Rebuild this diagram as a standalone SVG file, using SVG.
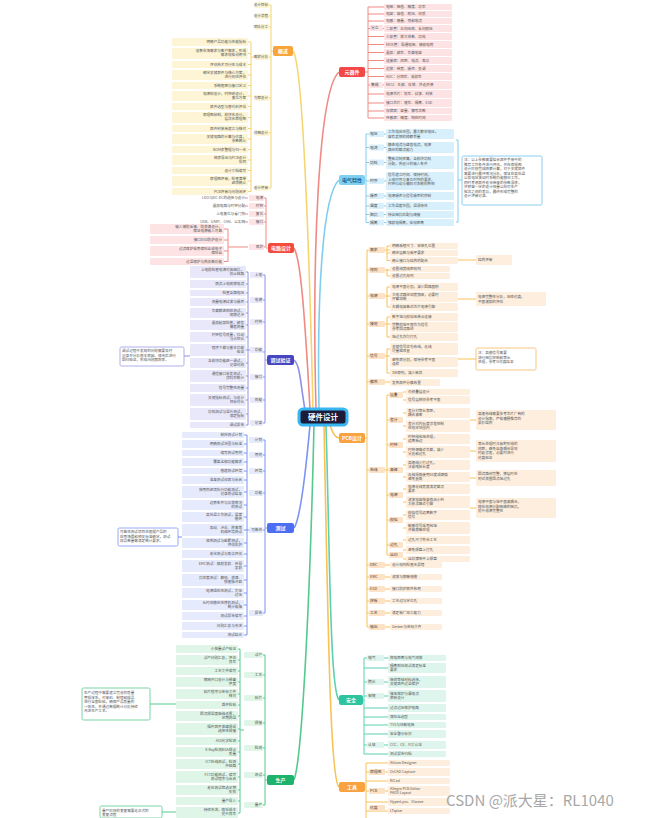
<svg xmlns="http://www.w3.org/2000/svg" width="652" height="818" viewBox="0 0 652 818">
<style>
text{font-family:"Noto Sans CJK SC","Noto Sans",sans-serif}
.t{font-size:3.6px;fill:#555}
.tl{font-size:3.6px;fill:#555;text-anchor:end}
.lb{font-size:3.8px;fill:#444}
.mn{font-size:5px;fill:#fff;text-anchor:middle;font-weight:bold}
.c{fill:none;stroke-width:1}
.cm{fill:none;stroke-width:1.6}
.red{stroke:#f08a84}.blu{stroke:#80cdef}.org{stroke:#f8c254}.tea{stroke:#5dd0b0}.yel{stroke:#f6d46e}.ind{stroke:#9090e4}.bl2{stroke:#7b93f2}.grn{stroke:#56c98e}
.fr{fill:#fde3e3}.fb{fill:#d8f0fb}.fo{fill:#fdeedd}.fol{fill:#fde2c6}.ft{fill:#ddf5ed}.fy{fill:#fdf5d6}.fi{fill:#e8e8fa}.fu{fill:#e5eafd}.fg{fill:#dff5e8}
</style>
<rect width="652" height="818" fill="#fff"/>
<g id="connectors">
<path class="cm red" d="M316 409 C312 260 318 90 339 72"/>
<path class="cm blu" d="M319 409 C317 300 322 195 339 180"/>
<path class="cm org" d="M330 425 Q334 438 339 438"/>
<path class="cm tea" d="M326 425 C330 560 330 690 339 700"/>
<path class="cm org" d="M324 425 C328 620 330 780 339 787"/>
<path class="cm yel" d="M313 409 C308 200 302 62 293 51"/>
<path class="cm red" d="M310 409 C304 300 300 258 294 248"/>
<path class="cm ind" d="M305 410 C300 380 300 365 294 360"/>
<path class="cm bl2" d="M310 425 C305 480 300 520 294 528"/>
<path class="cm grn" d="M314 425 C310 600 302 760 294 780"/>
<path class="c red" d="M365 72H368M368 7V118M368 7H384M368 14H384M368 21H384M368 28.5H384M368 36.5H384M368 44.5H384M368 52.5H384M368 60.5H384M368 68.5H384M368 76.5H384M368 85H384M368 94H384M368 103H384M368 111H384M368 118H384"/>
<path class="c blu" d="M365 180H366M366 134V222.5M366 134H386M366 147.5H386M366 162.5H386M366 181H386M366 196H386M366 206H386M366 214.5H386M366 222.5H386M456 140H458V222H456M458 180H462"/>
<path class="c org" d="M365 438H367M367 250V627M367 250H390M387 246V260.5M387 246H390M387 253H390M387 260.5H390M458 260H476M367 270H390M387 269V276M387 276H390M367 296H390M387 287V307M387 287H390M387 307H390M458 299H476M367 324H390M387 317V337M387 317H390M387 337H390M367 356H390M387 349V373M387 349H390M387 373H390M458 359H476M367 382H390M367 470H387M387 395V555M387 395H389M387 420H389M387 445H389M387 470H389M387 495H389M387 520H389M387 545H389M387 555H389M403 392H406M403 400H406M403 413H406M403 426H406M403 439H406M403 452H406M403 465H406M403 477H406M403 489H406M403 502H406M403 515H406M403 528H406M403 540H406M403 550H406M403 559H406M470 420H476M470 451H476M470 478H476M470 508H476M367 565H390M367 577H390M367 589H390M367 601H390M367 613H390M367 627H390"/>
<path class="c tea" d="M363 700H364M364 658V754M364 658H388M364 668H388M364 682H388M364 696H388M364 708H388M364 717H388M364 725H388M364 734H388M364 745H388M364 754H388"/>
<path class="c org" d="M365 787H366M366 763V818M366 763H388M366 772H388M366 781H388M366 791H388M366 802H388M366 811H388"/>
<path class="c yel" d="M273 51H271M271 5V188M271 5H269M271 16H269M271 27H269M271 57H269M271 98H269M271 133H269M271 188H269M255 57H251M251 42V191.5M251 42H248M251 53.5H248M251 64.5H248M251 75H248M251 85.5H248M251 96H248M251 106.5H248M251 117.5H248M251 128.5H248M251 139H248M251 149.5H248M251 160H248M251 170.5H248M251 181H248M251 191.5H248"/>
<path class="c red" d="M268 248H266M266 198V247M266 198H264M266 206H264M266 214H264M266 222H264M266 247H264M248 198H245M248 206H245M248 214H245M248 222H245M248 247H228M228 229V261.5M228 229H224M228 240H224M228 251H224M228 261.5H224"/>
<path class="c ind" d="M267 360H265M265 275V423M265 275H263M265 300H263M265 322H263M265 352H263M265 377H263M265 400H263M265 423H263M250 350H248M248 272V425M248 272H246M248 284H246M248 293H246M248 302H246M248 313H246M248 325H246M248 337H246M248 350H246M248 363H246M248 376H246M248 388H246M248 400H246M248 414H246M248 425H246M190 356H184"/>
<path class="c bl2" d="M267 528H265M265 440V613M265 440H263M265 455H263M265 471H263M265 493H263M265 530H263M265 613H263M249 530H247M247 435V635M247 435H244M247 444H244M247 453H244M247 462H244M247 471H244M247 480H244M247 492H244M247 505H244M247 517H244M247 530H244M247 543H244M247 554H244M247 566H244M247 580H244M247 593H244M247 605H244M247 616H244M247 626H244M247 635H244M182 537H178"/>
<path class="c grn" d="M267 780H265M265 655V805M265 655H263M265 675H263M265 698H263M265 723H263M265 748H263M265 775H263M265 805H263M244 730H240M240 649V813M240 649H238M240 660H238M240 671H238M240 682H238M240 694H238M240 705H238M240 716H238M240 729H238M240 741H238M240 752H238M240 764H238M240 777H238M240 790H238M240 801H238M240 813H238M176 704H150M176 812H162"/>
</g>
<g id="center"><rect x="299" y="409" width="48" height="16" rx="4" fill="#1c1c3a" stroke="#37b6f2" stroke-width="3"/><text x="323" y="420" font-size="7.5" fill="#fff" text-anchor="middle" font-weight="bold">硬件设计</text></g>
<g id="n-red-right"><rect x="339" y="67" width="26" height="10" rx="2" fill="#f24848"/><text class="mn" x="352" y="73.8">元器件</text>
<g class="fr"><rect x="384" y="4" width="68" height="6" rx="1"/><rect x="384" y="11" width="68" height="6" rx="1"/><rect x="384" y="18" width="68" height="6" rx="1"/><rect x="384" y="25" width="68" height="7" rx="1"/><rect x="384" y="33" width="68" height="7" rx="1"/><rect x="384" y="41" width="68" height="7" rx="1"/><rect x="384" y="49" width="68" height="7" rx="1"/><rect x="384" y="57" width="68" height="7" rx="1"/><rect x="384" y="65" width="68" height="7" rx="1"/><rect x="384" y="73" width="68" height="7" rx="1"/><rect x="384" y="81" width="68" height="8" rx="1"/><rect x="384" y="90" width="68" height="8" rx="1"/><rect x="384" y="99" width="68" height="8" rx="1"/><rect x="384" y="108" width="68" height="6" rx="1"/><rect x="384" y="115" width="68" height="6" rx="1"/><rect x="370" y="25" width="13" height="6" rx="1"/><rect x="370" y="82" width="13" height="6" rx="1"/></g>
<text class="t" x="386" y="8.3">电阻：阻值、精度、功率</text><text class="t" x="386" y="15.3">电容：容值、耐压、材质</text><text class="t" x="386" y="22.3">电感：感量、饱和电流</text><text class="t" x="386" y="29.8">二极管：正向压降、反向耐压</text><text class="t" x="386" y="37.8">三极管：放大倍数、功耗</text><text class="t" x="386" y="45.8">MOS管：导通电阻、栅极电荷</text><text class="t" x="386" y="53.8">晶振：频率、负载电容</text><text class="t" x="386" y="61.8">连接器：间距、电流、寿命</text><text class="t" x="386" y="69.8">运放：带宽、噪声、失调</text><text class="t" x="386" y="77.8">ADC：分辨率、采样率</text><text class="t" x="386" y="86.3">MCU：主频、存储、外设资源</text><text class="t" x="386" y="95.3">电源芯片：效率、纹波、封装</text><text class="t" x="386" y="104.3">接口芯片：速率、隔离、ESD</text><text class="t" x="386" y="112.3">存储器：容量、擦写次数</text><text class="t" x="386" y="119.3">传感器：精度、响应时间</text><text class="lb" x="371" y="29.3">分立</text><text class="lb" x="371" y="86.3">集成</text>
</g>
<g id="n-blue-right"><rect x="339" y="175" width="26" height="10" rx="2" fill="#7fd0f3"/><text class="mn" x="352" y="181.8" style="fill:#1d5f8a">电气特性</text>
<g class="fb"><rect x="369" y="131" width="15" height="6" rx="1"/><rect x="369" y="144.5" width="15" height="6" rx="1"/><rect x="369" y="159.5" width="15" height="6" rx="1"/><rect x="369" y="178" width="15" height="6" rx="1"/><rect x="369" y="193" width="15" height="6" rx="1"/><rect x="369" y="203" width="15" height="6" rx="1"/><rect x="369" y="211.5" width="15" height="6" rx="1"/><rect x="369" y="219.5" width="15" height="6" rx="1"/><rect x="386" y="129" width="68" height="10" rx="1"/><rect x="386" y="142" width="68" height="11" rx="1"/><rect x="386" y="156" width="68" height="13" rx="1"/><rect x="386" y="172" width="68" height="18" rx="1"/><rect x="386" y="192" width="68" height="8" rx="1"/><rect x="386" y="202" width="68" height="8" rx="1"/><rect x="386" y="211" width="68" height="7" rx="1"/><rect x="386" y="219" width="68" height="7" rx="1"/></g>
<text class="lb" x="370" y="135.3">电压</text><text class="lb" x="370" y="148.8">电流</text><text class="lb" x="370" y="163.8">功耗</text><text class="lb" x="370" y="182.3">时序</text><text class="lb" x="370" y="197.3">噪声</text><text class="lb" x="370" y="207.3">温度</text><text class="lb" x="370" y="215.8">阻抗</text><text class="lb" x="370" y="223.8">隔离</text>
<text class="t" x="388" y="133.3">工作电压范围，最大额定电压，</text><text class="t" x="388" y="137.6">留有足够的降额余量</text><text class="t" x="388" y="146.3">静态电流与峰值电流，电源</text><text class="t" x="388" y="150.6">路径的载流能力</text><text class="t" x="388" y="160.3">整板功耗预算，各模块功耗</text><text class="t" x="388" y="164.6">分配，热设计的输入条件</text><text class="t" x="388" y="176.3">信号建立时间、保持时间，</text><text class="t" x="388" y="180.6">上电时序与复位时序的要求，</text><text class="t" x="388" y="184.9">时钟抖动与偏斜对系统的影响</text><text class="t" x="388" y="197.3">电源噪声与信号噪声的抑制</text><text class="t" x="388" y="207.3">工作温度范围，温漂特性</text><text class="t" x="388" y="215.8">特征阻抗匹配与端接</text><text class="t" x="388" y="223.8">强弱电隔离，安规距离</text>
<rect x="462" y="156" width="80" height="49" rx="1.5" fill="#fff" stroke="#6cc3ec" stroke-width="0.8"/>
<text class="t" x="464" y="161">注：以上参数需要结合器件手册中的</text><text class="t" x="464" y="165.5">推荐工作条件进行评估，并在原理图</text><text class="t" x="464" y="170">设计阶段完成降额计算，对于关键器件</text><text class="t" x="464" y="174.5">需要进行最坏情况分析，保证在高低温</text><text class="t" x="464" y="179">以及电压波动时系统仍能稳定工作，</text><text class="t" x="464" y="183.5">同时考虑器件老化带来的参数漂移，</text><text class="t" x="464" y="188">并预留一定的设计裕量以应对生产</text><text class="t" x="464" y="192.5">批次之间的差异，最终形成完整的</text><text class="t" x="464" y="197">设计评审记录。</text>
</g>
<g id="n-orange-right"><rect x="339" y="433" width="26" height="10" rx="2" fill="#f8a242"/><text class="mn" x="352" y="439.8">PCB设计</text>
<g class="fol"><rect x="369" y="247" width="16" height="6" rx="1"/><rect x="369" y="267" width="16" height="6" rx="1"/><rect x="369" y="293" width="16" height="6" rx="1"/><rect x="369" y="321" width="16" height="6" rx="1"/><rect x="369" y="353" width="16" height="6" rx="1"/><rect x="369" y="379" width="16" height="6" rx="1"/><rect x="369" y="467" width="16" height="6" rx="1"/><rect x="389" y="392" width="14" height="6" rx="1"/><rect x="389" y="417" width="14" height="6" rx="1"/><rect x="389" y="442" width="14" height="6" rx="1"/><rect x="389" y="467" width="14" height="6" rx="1"/><rect x="389" y="492" width="14" height="6" rx="1"/><rect x="389" y="517" width="14" height="6" rx="1"/><rect x="389" y="542" width="14" height="6" rx="1"/><rect x="389" y="552" width="14" height="6" rx="1"/><rect x="369" y="562" width="16" height="6" rx="1"/><rect x="369" y="574" width="16" height="6" rx="1"/><rect x="369" y="586" width="16" height="6" rx="1"/><rect x="369" y="598" width="16" height="6" rx="1"/><rect x="369" y="610" width="16" height="6" rx="1"/><rect x="369" y="624" width="16" height="6" rx="1"/></g>
<g class="fo"><rect x="390" y="243" width="68" height="6" rx="1"/><rect x="390" y="250" width="68" height="6" rx="1"/><rect x="390" y="257" width="68" height="7" rx="1"/><rect x="476" y="255" width="36" height="10" rx="1"/><rect x="390" y="266" width="60" height="6" rx="1"/><rect x="390" y="273" width="60" height="6" rx="1"/><rect x="390" y="283" width="68" height="8" rx="1"/><rect x="390" y="292" width="68" height="10" rx="1"/><rect x="390" y="303" width="68" height="8" rx="1"/><rect x="476" y="292" width="70" height="14" rx="1"/><rect x="390" y="313" width="68" height="8" rx="1"/><rect x="390" y="322" width="68" height="10" rx="1"/><rect x="390" y="333" width="68" height="8" rx="1"/><rect x="390" y="343" width="68" height="12" rx="1"/><rect x="390" y="357" width="68" height="10" rx="1"/><rect x="390" y="369" width="68" height="8" rx="1"/><rect x="390" y="379" width="50" height="7" rx="1"/><rect x="406" y="389" width="64" height="6" rx="1"/><rect x="406" y="396" width="64" height="8" rx="1"/><rect x="406" y="408" width="64" height="10" rx="1"/><rect x="406" y="420" width="64" height="12" rx="1"/><rect x="406" y="434" width="64" height="10" rx="1"/><rect x="406" y="446" width="64" height="12" rx="1"/><rect x="406" y="460" width="64" height="10" rx="1"/><rect x="406" y="472" width="64" height="10" rx="1"/><rect x="406" y="484" width="64" height="10" rx="1"/><rect x="406" y="496" width="64" height="12" rx="1"/><rect x="406" y="510" width="64" height="10" rx="1"/><rect x="406" y="522" width="64" height="12" rx="1"/><rect x="406" y="536" width="64" height="8" rx="1"/><rect x="406" y="546" width="64" height="8" rx="1"/><rect x="406" y="556" width="64" height="6" rx="1"/><rect x="476" y="410" width="80" height="20" rx="1"/><rect x="476" y="440" width="80" height="22" rx="1"/><rect x="476" y="470" width="80" height="16" rx="1"/><rect x="476" y="498" width="80" height="20" rx="1"/><rect x="390" y="562" width="52" height="6" rx="1"/><rect x="390" y="574" width="52" height="6" rx="1"/><rect x="390" y="586" width="52" height="6" rx="1"/><rect x="390" y="598" width="52" height="6" rx="1"/><rect x="390" y="610" width="52" height="6" rx="1"/><rect x="390" y="624" width="52" height="6" rx="1"/></g>
<rect x="476" y="348" width="60" height="22" rx="1.5" fill="#fff" stroke="#f8b860" stroke-width="0.8"/>
<text class="lb" x="370" y="251.3">需求</text><text class="lb" x="370" y="271.3">规则</text><text class="lb" x="370" y="297.3">电源</text><text class="lb" x="370" y="325.3">接地</text><text class="lb" x="370" y="357.3">信号</text><text class="lb" x="370" y="383.3">散热</text><text class="lb" x="370" y="471.3">布线</text><text class="lb" x="390" y="396.3">层叠</text><text class="lb" x="390" y="421.3">差分</text><text class="lb" x="390" y="446.3">时钟</text><text class="lb" x="390" y="471.3">高速</text><text class="lb" x="390" y="496.3">电源</text><text class="lb" x="390" y="521.3">模拟</text><text class="lb" x="390" y="546.3">过孔</text><text class="lb" x="390" y="556.3">丝印</text><text class="lb" x="370" y="566.3">DRC</text><text class="lb" x="370" y="578.3">EMC</text><text class="lb" x="370" y="590.3">ESD</text><text class="lb" x="370" y="602.3">拼板</text><text class="lb" x="370" y="614.3">工艺</text><text class="lb" x="370" y="628.3">输出</text>
<text class="t" x="392" y="247.3">明确板框尺寸、安装孔位置</text><text class="t" x="392" y="254.3">确定层数与板厚要求</text><text class="t" x="392" y="261.6">确认接口与结构的配合</text><text class="t" x="478" y="261.3">结构评审</text><text class="t" x="392" y="270.3">设置线宽线距规则</text><text class="t" x="392" y="277.3">设置过孔规则</text><text class="t" x="392" y="288.3">电源平面分割，减少回路面积</text><text class="t" x="392" y="296">大电流路径加宽铜皮，必要时</text><text class="t" x="392" y="300.3">开窗加锡</text><text class="t" x="392" y="308.3">去耦电容靠近芯片电源引脚</text><text class="t" x="478" y="298">电源完整性分析，压降仿真，</text><text class="t" x="478" y="302.5">平面谐振的评估</text><text class="t" x="392" y="318.3">数字地与模拟地单点连接</text><text class="t" x="392" y="326">完整的地平面作为信号</text><text class="t" x="392" y="330.3">参考回流路径</text><text class="t" x="392" y="338.3">地过孔均匀打孔</text><text class="t" x="392" y="348">关键信号优先布线，走线</text><text class="t" x="392" y="352.3">尽量短且直</text><text class="t" x="392" y="361">避免跨分割，保持参考平面</text><text class="t" x="392" y="365.3">连续</text><text class="t" x="392" y="374.3">3W原则，减少串扰</text><text class="t" x="478" y="354">注：高速信号需要</text><text class="t" x="478" y="358.5">进行阻抗控制和等长</text><text class="t" x="478" y="363">处理，参考SI仿真结果</text><text class="t" x="392" y="384">发热器件分散布置</text>
<text class="t" x="408" y="393.3">对称叠层设计</text><text class="t" x="408" y="401.3">信号层相邻参考平面</text><text class="t" x="408" y="412">差分对等长等距，</text><text class="t" x="408" y="416.3">耦合紧密</text><text class="t" x="408" y="424.5">差分对内长度误差控制</text><text class="t" x="408" y="428.8">在规定范围内</text><text class="t" x="408" y="438">时钟线包地处理，</text><text class="t" x="408" y="442.3">远离板边</text><text class="t" x="408" y="450.5">时钟源靠近负载，减少</text><text class="t" x="408" y="454.8">分支和过孔</text><text class="t" x="408" y="464">高速线少打过孔，</text><text class="t" x="408" y="468.3">注意残桩长度</text><text class="t" x="408" y="476">走线拐角使用45度或圆弧</text><text class="t" x="408" y="480.3">避免直角</text><text class="t" x="408" y="488">电源走线宽度满足载流</text><text class="t" x="408" y="492.3">要求</text><text class="t" x="408" y="500.5">滤波电容按容值由小到</text><text class="t" x="408" y="504.8">大依次靠近引脚</text><text class="t" x="408" y="514">模拟信号远离数字</text><text class="t" x="408" y="518.3">信号</text><text class="t" x="408" y="526.5">敏感信号采用包地</text><text class="t" x="408" y="530.8">并做屏蔽处理</text><text class="t" x="408" y="541.3">过孔尺寸符合工艺</text><text class="t" x="408" y="551.3">避免焊盘上打孔</text><text class="t" x="408" y="560.3">丝印清晰不上焊盘</text>
<text class="t" x="478" y="415">高速布线需要参考芯片厂商的</text><text class="t" x="478" y="419.5">设计指南，严格遵循推荐的</text><text class="t" x="478" y="424">拓扑结构</text><text class="t" x="478" y="445">等长处理时注意蛇形线的</text><text class="t" x="478" y="449.5">间距，避免自身耦合导致</text><text class="t" x="478" y="454">时延误差，必要时进行</text><text class="t" x="478" y="458.5">仿真验证</text><text class="t" x="478" y="475">回流路径完整，换层时在</text><text class="t" x="478" y="479.5">附近放置回流地过孔</text><text class="t" x="478" y="503">电源平面与地平面紧耦合，</text><text class="t" x="478" y="507.5">降低电源分配网络的阻抗，</text><text class="t" x="478" y="512">提升电源完整性</text>
<text class="t" x="392" y="566.3">设计规则检查无报错</text><text class="t" x="392" y="578.3">滤波与屏蔽措施</text><text class="t" x="392" y="590.3">接口防护器件布局</text><text class="t" x="392" y="602.3">工艺边与定位孔</text><text class="t" x="392" y="614.3">满足板厂加工能力</text><text class="t" x="392" y="628.3">Gerber与坐标文件</text>
</g>
<g id="n-teal-right"><rect x="339" y="695" width="24" height="10" rx="2" fill="#2fc4a0"/><text class="mn" x="351" y="701.8">安全</text>
<g class="ft"><rect x="367" y="655" width="17" height="6" rx="1"/><rect x="367" y="679" width="17" height="6" rx="1"/><rect x="367" y="693" width="17" height="6" rx="1"/><rect x="367" y="742" width="17" height="6" rx="1"/><rect x="388" y="655" width="58" height="6" rx="1"/><rect x="388" y="663" width="58" height="10" rx="1"/><rect x="388" y="676" width="58" height="12" rx="1"/><rect x="388" y="690" width="58" height="12" rx="1"/><rect x="388" y="704" width="58" height="8" rx="1"/><rect x="388" y="714" width="58" height="6" rx="1"/><rect x="388" y="722" width="58" height="6" rx="1"/><rect x="388" y="730" width="58" height="8" rx="1"/><rect x="388" y="741" width="58" height="8" rx="1"/><rect x="388" y="751" width="58" height="6" rx="1"/></g>
<text class="lb" x="368" y="659.3">电气</text><text class="lb" x="368" y="683.3">防火</text><text class="lb" x="368" y="697.3">安规</text><text class="lb" x="368" y="746.3">认证</text>
<text class="t" x="390" y="659.3">爬电距离与电气间隙</text><text class="t" x="390" y="667">隔离耐压测试满足标准</text><text class="t" x="390" y="671.3">要求</text><text class="t" x="390" y="680.5">阻燃等级材料选择，</text><text class="t" x="390" y="684.8">关键器件过温保护</text><text class="t" x="390" y="694.5">接地保护与漏电流</text><text class="t" x="390" y="698.8">限制设计</text><text class="t" x="390" y="709.3">过流过压保护电路</text><text class="t" x="390" y="718.3">保险丝选型</text><text class="t" x="390" y="726.3">TVS与压敏电阻</text><text class="t" x="390" y="735.3">安全警示标识</text><text class="t" x="390" y="746.3">CCC、CE、FCC认证</text><text class="t" x="390" y="755.3">测试报告归档</text>
</g>
<g id="n-tools-right"><rect x="339" y="782" width="26" height="10" rx="2" fill="#f8a242"/><text class="mn" x="352" y="788.8">工具</text>
<g class="fo"><rect x="388" y="760" width="62" height="6" rx="1"/><rect x="388" y="768" width="62" height="8" rx="1"/><rect x="388" y="778" width="62" height="6" rx="1"/><rect x="388" y="786" width="62" height="10" rx="1"/><rect x="388" y="798" width="62" height="8" rx="1"/><rect x="388" y="808" width="62" height="6" rx="1"/></g>
<g class="fol"><rect x="369" y="769" width="16" height="6" rx="1"/><rect x="369" y="788" width="16" height="6" rx="1"/><rect x="369" y="805" width="16" height="6" rx="1"/></g>
<text class="lb" x="370" y="773.3">原理图</text><text class="lb" x="370" y="792.3">PCB</text><text class="lb" x="370" y="809.3">仿真</text>
<text class="t" x="390" y="764.3">Altium Designer</text><text class="t" x="390" y="773.3">OrCAD Capture</text><text class="t" x="390" y="782.3">KiCad</text><text class="t" x="390" y="790">Allegro PCB Editor</text><text class="t" x="390" y="794.3">PADS Layout</text><text class="t" x="390" y="803.3">HyperLynx、SIwave</text><text class="t" x="390" y="812.3">LTspice</text>
</g>
<g id="n-overview-left"><rect x="273" y="46" width="20" height="10" rx="2" fill="#f7a43a"/><text class="mn" x="283" y="52.8">概述</text>
<g class="fy"><rect x="255" y="2" width="14" height="6" rx="1"/><rect x="255" y="13" width="14" height="6" rx="1"/><rect x="255" y="24" width="14" height="6" rx="1"/><rect x="255" y="54" width="14" height="6" rx="1"/><rect x="255" y="95" width="14" height="6" rx="1"/><rect x="255" y="130" width="14" height="6" rx="1"/><rect x="255" y="185" width="14" height="6" rx="1"/>
<rect x="172" y="38" width="76" height="8" rx="1"/><rect x="172" y="48" width="76" height="11" rx="1"/><rect x="172" y="61" width="76" height="7" rx="1"/><rect x="172" y="70" width="76" height="10" rx="1"/><rect x="172" y="82" width="76" height="7" rx="1"/><rect x="172" y="91" width="76" height="10" rx="1"/><rect x="172" y="103" width="76" height="7" rx="1"/><rect x="172" y="112" width="76" height="11" rx="1"/><rect x="172" y="125" width="76" height="7" rx="1"/><rect x="172" y="134" width="76" height="10" rx="1"/><rect x="172" y="146" width="76" height="7" rx="1"/><rect x="172" y="155" width="76" height="10" rx="1"/><rect x="172" y="167" width="76" height="7" rx="1"/><rect x="172" y="176" width="76" height="10" rx="1"/><rect x="172" y="188" width="76" height="7" rx="1"/></g>
<text class="tl" x="268" y="6.3">设计目标</text><text class="tl" x="268" y="17.3">设计流程</text><text class="tl" x="268" y="28.3">团队分工</text><text class="tl" x="268" y="58.3">需求分析</text><text class="tl" x="268" y="99.3">方案设计</text><text class="tl" x="268" y="134.3">详细设计</text><text class="tl" x="268" y="189.3">设计评审</text>
<text class="tl" x="246" y="43.3">明确产品功能与性能指标</text><text class="tl" x="246" y="52">收集市场需求与客户需求，形成</text><text class="tl" x="246" y="56.3">需求规格说明书</text><text class="tl" x="246" y="65.8">评估技术可行性与成本</text><text class="tl" x="246" y="73.5">确定关键器件与核心方案，</text><text class="tl" x="246" y="77.8">进行风险评估</text><text class="tl" x="246" y="86.8">系统框图与接口定义</text><text class="tl" x="246" y="94.5">电源树设计，时钟树设计，</text><text class="tl" x="246" y="98.8">复位方案</text><text class="tl" x="246" y="107.8">器件选型与替代料评估</text><text class="tl" x="246" y="116">原理图绘制，模块化设计，</text><text class="tl" x="246" y="120.3">层次化原理图</text><text class="tl" x="246" y="129.8">器件封装库建立与核对</text><text class="tl" x="246" y="137.5">关键电路的计算与仿真，</text><text class="tl" x="246" y="141.8">参数确认</text><text class="tl" x="246" y="150.8">BOM表整理与归一化</text><text class="tl" x="246" y="158.5">网表导出与PCB设计</text><text class="tl" x="246" y="162.8">协同</text><text class="tl" x="246" y="171.8">设计文档编写</text><text class="tl" x="246" y="179.5">原理图评审，检查清单</text><text class="tl" x="246" y="183.8">逐项确认</text><text class="tl" x="246" y="192.8">PCB评审与问题闭环</text>
</g>
<g id="n-circuit-left"><rect x="268" y="243" width="26" height="10" rx="2" fill="#f24c3c"/><text class="mn" x="281" y="249.8">电路设计</text>
<g class="fr"><rect x="249" y="195" width="15" height="6" rx="1"/><rect x="249" y="203" width="15" height="6" rx="1"/><rect x="249" y="211" width="15" height="6" rx="1"/><rect x="249" y="219" width="15" height="6" rx="1"/><rect x="249" y="244" width="15" height="6" rx="1"/><rect x="150" y="224" width="74" height="10" rx="1"/><rect x="150" y="236" width="74" height="8" rx="1"/><rect x="150" y="246" width="74" height="10" rx="1"/><rect x="150" y="258" width="74" height="7" rx="1"/></g>
<text class="tl" x="263" y="199.3">电源</text><text class="tl" x="263" y="207.3">时钟</text><text class="tl" x="263" y="215.3">复位</text><text class="tl" x="263" y="223.3">接口</text><text class="tl" x="263" y="248.3">保护</text>
<text class="tl" x="245" y="199.3">LDO与DC-DC的选择与设计</text><text class="tl" x="245" y="207.3">晶振电路与时钟分配</text><text class="tl" x="245" y="215.3">上电复位与看门狗</text><text class="tl" x="245" y="223.3">USB、UART、CAN、以太网</text><text class="tl" x="222" y="227.8">输入端防反接、防浪涌设计，</text><text class="tl" x="222" y="232">保证电源输入可靠</text><text class="tl" x="222" y="241.3">接口ESD防护设计</text><text class="tl" x="222" y="249.8">过流保护采用保险丝或电子</text><text class="tl" x="222" y="254">保险丝</text><text class="tl" x="222" y="262.8">过温保护与热关断功能</text>
</g>
<g id="n-debug-left"><rect x="267" y="355" width="27" height="10" rx="2" fill="#4646c0"/><text class="mn" x="280.5" y="361.8">调试验证</text>
<g class="fi"><rect x="250" y="272" width="13" height="6" rx="1"/><rect x="250" y="297" width="13" height="6" rx="1"/><rect x="250" y="319" width="13" height="6" rx="1"/><rect x="250" y="347" width="13" height="6" rx="1"/><rect x="250" y="374" width="13" height="6" rx="1"/><rect x="250" y="397" width="13" height="6" rx="1"/><rect x="250" y="420" width="13" height="6" rx="1"/>
<rect x="190" y="266" width="56" height="12" rx="1"/><rect x="190" y="280" width="56" height="8" rx="1"/><rect x="190" y="290" width="56" height="6" rx="1"/><rect x="190" y="298" width="56" height="8" rx="1"/><rect x="190" y="308" width="56" height="10" rx="1"/><rect x="190" y="320" width="56" height="10" rx="1"/><rect x="190" y="332" width="56" height="10" rx="1"/><rect x="190" y="344" width="56" height="12" rx="1"/><rect x="190" y="358" width="56" height="10" rx="1"/><rect x="190" y="370" width="56" height="12" rx="1"/><rect x="190" y="384" width="56" height="8" rx="1"/><rect x="190" y="394" width="56" height="12" rx="1"/><rect x="190" y="408" width="56" height="12" rx="1"/><rect x="190" y="422" width="56" height="6" rx="1"/></g>
<rect x="120" y="347" width="64" height="19" rx="1.5" fill="#fff" stroke="#9a9ae6" stroke-width="0.8"/>
<text class="tl" x="262" y="276.3">上电</text><text class="tl" x="262" y="301.3">电源</text><text class="tl" x="262" y="323.3">时钟</text><text class="tl" x="262" y="351.3">功能</text><text class="tl" x="262" y="378.3">接口</text><text class="tl" x="262" y="401.3">性能</text><text class="tl" x="262" y="424.3">记录</text>
<text class="tl" x="244" y="270.5">上电前检查电源对地阻抗，</text><text class="tl" x="244" y="274.8">防止短路</text><text class="tl" x="244" y="285.3">限流上电观察电流</text><text class="tl" x="244" y="294.3">检查各路电压</text><text class="tl" x="244" y="303.3">测量电源纹波与噪声</text><text class="tl" x="244" y="312">负载瞬态响应测试，</text><text class="tl" x="244" y="316.3">观察过冲</text><text class="tl" x="244" y="324">晶振起振检查，频率</text><text class="tl" x="244" y="328.3">偏差测量</text><text class="tl" x="244" y="336">时钟信号质量，抖动</text><text class="tl" x="244" y="340.3">与占空比</text><text class="tl" x="244" y="348.5">程序下载与基本功能</text><text class="tl" x="244" y="352.8">验证</text><text class="tl" x="244" y="362">各模块功能逐一调试，</text><text class="tl" x="244" y="366.3">记录问题</text><text class="tl" x="244" y="374.5">通信接口收发测试，</text><text class="tl" x="244" y="378.8">误码率统计</text><text class="tl" x="244" y="389.3">信号完整性测量</text><text class="tl" x="244" y="398.5">关键指标测试，与设计</text><text class="tl" x="244" y="402.8">目标对比</text><text class="tl" x="244" y="412.5">功耗测试与温升测试，</text><text class="tl" x="244" y="416.8">满足指标</text><text class="tl" x="244" y="426.3">调试报告</text>
<text class="t" x="122" y="352">调试过程中发现的问题需要及时</text><text class="t" x="122" y="356.5">记录并分析根本原因，修改后进行</text><text class="t" x="122" y="361">回归验证，形成问题跟踪表。</text>
</g>
<g id="n-test-left"><rect x="267" y="523" width="27" height="10" rx="2" fill="#4b6ef3"/><text class="mn" x="280.5" y="529.8">测试</text>
<g class="fu"><rect x="249" y="437" width="14" height="6" rx="1"/><rect x="249" y="452" width="14" height="6" rx="1"/><rect x="249" y="468" width="14" height="6" rx="1"/><rect x="249" y="490" width="14" height="6" rx="1"/><rect x="249" y="527" width="14" height="6" rx="1"/><rect x="249" y="610" width="14" height="6" rx="1"/>
<rect x="182" y="432" width="62" height="6" rx="1"/><rect x="182" y="440" width="62" height="8" rx="1"/><rect x="182" y="450" width="62" height="6" rx="1"/><rect x="182" y="458" width="62" height="8" rx="1"/><rect x="182" y="468" width="62" height="6" rx="1"/><rect x="182" y="476" width="62" height="8" rx="1"/><rect x="182" y="486" width="62" height="12" rx="1"/><rect x="182" y="500" width="62" height="10" rx="1"/><rect x="182" y="512" width="62" height="10" rx="1"/><rect x="182" y="524" width="62" height="12" rx="1"/><rect x="182" y="538" width="62" height="10" rx="1"/><rect x="182" y="550" width="62" height="8" rx="1"/><rect x="182" y="560" width="62" height="12" rx="1"/><rect x="182" y="574" width="62" height="12" rx="1"/><rect x="182" y="588" width="62" height="10" rx="1"/><rect x="182" y="600" width="62" height="10" rx="1"/><rect x="182" y="612" width="62" height="8" rx="1"/><rect x="182" y="622" width="62" height="8" rx="1"/><rect x="182" y="632" width="62" height="6" rx="1"/></g>
<rect x="118" y="528" width="60" height="18" rx="1.5" fill="#fff" stroke="#7b93f2" stroke-width="0.8"/>
<text class="tl" x="262" y="441.3">计划</text><text class="tl" x="262" y="456.3">用例</text><text class="tl" x="262" y="472.3">环境</text><text class="tl" x="262" y="494.3">功能</text><text class="tl" x="262" y="531.3">可靠性</text><text class="tl" x="262" y="614.3">报告</text>
<text class="tl" x="242" y="436.3">制定测试计划</text><text class="tl" x="242" y="445.3">明确测试范围与标准</text><text class="tl" x="242" y="454.3">编写测试用例</text><text class="tl" x="242" y="463.3">覆盖全部功能需求</text><text class="tl" x="242" y="472.3">搭建测试环境</text><text class="tl" x="242" y="481.3">准备测试仪器与治具</text><text class="tl" x="242" y="491">按用例逐项执行功能测试，</text><text class="tl" x="242" y="495.3">记录测试结果</text><text class="tl" x="242" y="504">边界条件与异常情况</text><text class="tl" x="242" y="508.3">的测试</text><text class="tl" x="242" y="516">高低温工作测试，温度</text><text class="tl" x="242" y="520.3">循环</text><text class="tl" x="242" y="528.5">振动、冲击、跌落等</text><text class="tl" x="242" y="532.8">机械环境测试</text><text class="tl" x="242" y="542">湿热测试与盐雾测试，</text><text class="tl" x="242" y="546.3">评估防护</text><text class="tl" x="242" y="555.3">老化测试与寿命评估</text><text class="tl" x="242" y="564.5">EMC测试：辐射发射、传导</text><text class="tl" x="242" y="568.8">发射</text><text class="tl" x="242" y="578.5">抗扰度测试：静电、浪涌、</text><text class="tl" x="242" y="582.8">快速脉冲群</text><text class="tl" x="242" y="592">电源适应性测试，欠压</text><text class="tl" x="242" y="596.3">过压</text><text class="tl" x="242" y="604">长时间稳定性拷机测试，</text><text class="tl" x="242" y="608.3">统计故障</text><text class="tl" x="242" y="617.3">测试报告编写</text><text class="tl" x="242" y="627.3">问题汇总与改进</text><text class="tl" x="242" y="636.3">测试结论</text>
<text class="t" x="120" y="533">可靠性测试项目应根据产品的</text><text class="t" x="120" y="537.5">应用场景和相关标准确定，测试</text><text class="t" x="120" y="542">样品数量需满足统计要求。</text>
</g>
<g id="n-production-left"><rect x="267" y="775" width="27" height="10" rx="2" fill="#1db36c"/><text class="mn" x="280.5" y="781.8">生产</text>
<g class="fg"><rect x="244" y="652" width="19" height="6" rx="1"/><rect x="244" y="672" width="19" height="6" rx="1"/><rect x="244" y="695" width="19" height="6" rx="1"/><rect x="244" y="720" width="19" height="6" rx="1"/><rect x="244" y="745" width="19" height="6" rx="1"/><rect x="244" y="772" width="19" height="6" rx="1"/><rect x="244" y="802" width="19" height="6" rx="1"/>
<rect x="176" y="645" width="62" height="8" rx="1"/><rect x="176" y="655" width="62" height="10" rx="1"/><rect x="176" y="667" width="62" height="8" rx="1"/><rect x="176" y="677" width="62" height="10" rx="1"/><rect x="176" y="689" width="62" height="10" rx="1"/><rect x="176" y="701" width="62" height="8" rx="1"/><rect x="176" y="711" width="62" height="10" rx="1"/><rect x="176" y="723" width="62" height="12" rx="1"/><rect x="176" y="737" width="62" height="8" rx="1"/><rect x="176" y="747" width="62" height="10" rx="1"/><rect x="176" y="759" width="62" height="10" rx="1"/><rect x="176" y="771" width="62" height="12" rx="1"/><rect x="176" y="785" width="62" height="10" rx="1"/><rect x="176" y="797" width="62" height="8" rx="1"/><rect x="176" y="807" width="62" height="11" rx="1"/></g>
<rect x="82" y="688" width="68" height="32" rx="1.5" fill="#fff" stroke="#56c98e" stroke-width="0.8"/>
<rect x="100" y="806" width="62" height="12" rx="1.5" fill="#fff" stroke="#56c98e" stroke-width="0.8"/>
<text class="tl" x="262" y="656.3">试产</text><text class="tl" x="262" y="676.3">工艺</text><text class="tl" x="262" y="699.3">贴片</text><text class="tl" x="262" y="724.3">焊接</text><text class="tl" x="262" y="749.3">检测</text><text class="tl" x="262" y="776.3">测试</text><text class="tl" x="262" y="806.3">量产</text>
<text class="tl" x="236" y="650.3">小批量试产验证</text><text class="tl" x="236" y="659">试产问题汇总，评估</text><text class="tl" x="236" y="663.3">良率</text><text class="tl" x="236" y="672.3">工艺文件编写</text><text class="tl" x="236" y="681">钢网开口设计与锡膏</text><text class="tl" x="236" y="685.3">厚度</text><text class="tl" x="236" y="693">贴片程序与坐标文件</text><text class="tl" x="236" y="697.3">核对</text><text class="tl" x="236" y="706.3">首件检验</text><text class="tl" x="236" y="715">回流焊温度曲线设置，</text><text class="tl" x="236" y="719.3">定期测温</text><text class="tl" x="236" y="727.5">插件器件波峰焊或</text><text class="tl" x="236" y="731.8">选择性焊接</text><text class="tl" x="236" y="742.3">AOI光学检测</text><text class="tl" x="236" y="751">X-Ray检测BGA焊点</text><text class="tl" x="236" y="755.3">质量</text><text class="tl" x="236" y="763">ICT在线测试，检测</text><text class="tl" x="236" y="767.3">开短路</text><text class="tl" x="236" y="775.5">FCT功能测试，编写</text><text class="tl" x="236" y="779.8">测试程序与治具</text><text class="tl" x="236" y="789">老化测试筛选早期</text><text class="tl" x="236" y="793.3">失效</text><text class="tl" x="236" y="802.3">量产导入</text><text class="tl" x="236" y="811">持续改进，降低成本</text><text class="tl" x="236" y="815.3">提升良率</text>
<text class="t" x="84" y="694">生产过程中需要建立完善的质量</text><text class="t" x="84" y="698.5">管理体系，对来料、制程和成品</text><text class="t" x="84" y="703">进行全面检验，确保产品质量的</text><text class="t" x="84" y="707.5">一致性，并通过数据统计分析持续</text><text class="t" x="84" y="712">改进生产工艺。</text>
<text class="t" x="102" y="811.5">量产阶段的变更需要走正式的</text><text class="t" x="102" y="816">变更流程</text>
</g>
<text x="446" y="806" font-size="15" fill="#a8a8a8" font-family="Noto Sans CJK SC, sans-serif">CSDN @派大星：RL1040</text>
</svg>
